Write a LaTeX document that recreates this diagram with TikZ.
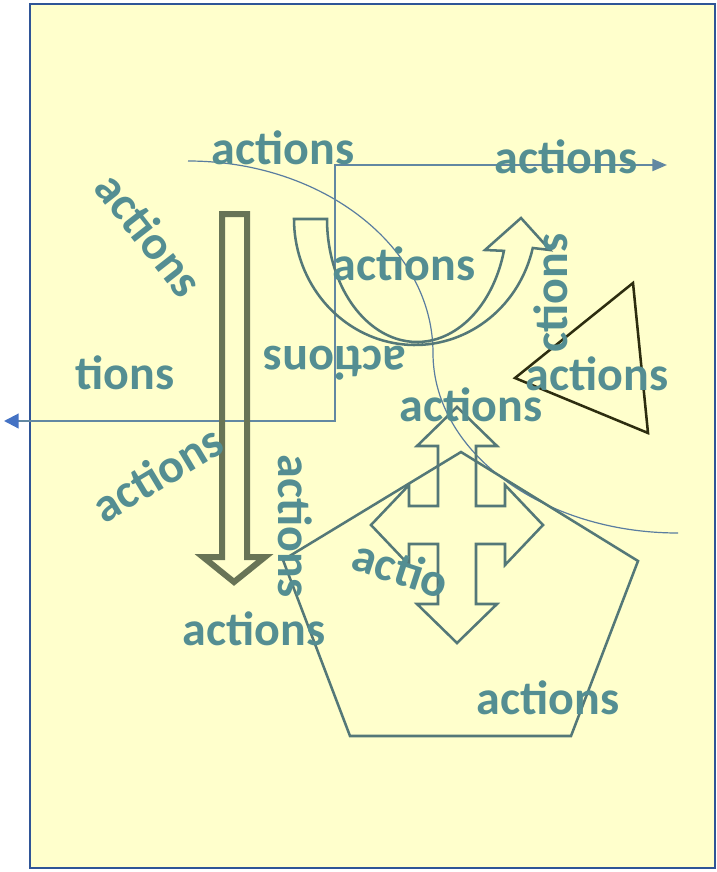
\documentclass[tikz,border=0pt]{standalone}
\usepackage{fontspec}
\setmainfont{Carlito}
\usetikzlibrary{arrows.meta}
\definecolor{bgyellow}{RGB}{255,255,204}
\definecolor{borderblue}{RGB}{47,85,151}
\definecolor{txtteal}{RGB}{84,142,146}
\definecolor{shpgray}{RGB}{84,120,120}
\definecolor{olivearrow}{RGB}{104,116,86}
\definecolor{darktri}{RGB}{45,45,15}
\definecolor{connline}{RGB}{98,136,162}
\definecolor{tipblue}{RGB}{68,114,196}
\definecolor{curveblue}{RGB}{90,125,160}
\tikzset{
  txt/.style={text=txtteal, font=\fontsize{36}{40}\selectfont\bfseries, inner sep=0pt},
  shp/.style={draw=shpgray, line width=1.9pt, line join=miter},
}
\begin{document}
\begin{tikzpicture}[x=0.75pt,y=-0.75pt]
\useasboundingbox (0,0) rectangle (717,872);
% background
\draw[fill=bgyellow, draw=borderblue, line width=1.5pt] (30,4) rectangle (715,868);
% thin S-curve
\coordinate (cA) at (188,161);
\coordinate (cM) at (433,353);
\coordinate (cB) at (678,533);
\draw[curveblue, line width=0.9pt] (cA) .. controls (323,161) and (433,247) .. (cM)
  .. controls (433,452) and (543,533) .. (cB);
% elbow connector
\coordinate (elA) at (4,421);
\coordinate (elK) at (335,165);
\coordinate (elB) at (667,165);
\draw[connline, line width=1.6pt,
  {Triangle[length=11pt,width=11pt,color=tipblue]}-{Triangle[length=11pt,width=9pt]}]
  (elA) -| (elK) -- (elB);
% big down arrow
\draw[olivearrow, line width=4.5pt, line join=miter]
  (222,214) -- (247,214) -- (247,557) -- (265,557) -- (234,582) -- (203,557) -- (222,557) -- cycle;
% U-turn arrow
\draw[shp] (327,219) -- (294,219)
  -- plot[domain=180:13.3, samples=70, variable=\t] ({415+121*cos(\t)},{219+126*sin(\t)})
  -- (550,250) -- (521,218) -- (485,250)
  -- plot[domain=15:180, samples=70, variable=\t] ({417+90*cos(\t)},{219+123*sin(\t)})
  -- cycle;
% triangle
\draw[darktri, line width=1.9pt, line join=miter] (633,283) -- (515,378) -- (648,433) -- cycle;
% four-way arrow
\draw[shp] (409,506) -- (409,485) -- (371,525) -- (409,565) -- (409,544) -- (438,544)
  -- (438,604) -- (417,604) -- (457,643) -- (497,604) -- (476,604) -- (476,544)
  -- (505,544) -- (505,565) -- (543,525) -- (505,485) -- (505,506) -- (476,506)
  -- (476,446) -- (497,446) -- (457,407) -- (417,446) -- (438,446) -- (438,506) -- cycle;
% pentagon
\draw[shp] (461,452) -- (638,561) -- (571,736) -- (350,736) -- (283,560) -- cycle;
% texts
\node[txt] (t1) at (283,148) {actions};
\node[txt] (t2) at (566,157) {actions};
\node[txt, rotate=-52] (t3) at (150,234) {actions};
\node[txt] (t4) at (404,264) {actions};
\node[txt, rotate=90] (t5) at (551,293) {ctions};
\node[txt] (t6) at (125,373) {tions};
\node[txt, rotate=180] (t7) at (335,363) {actions};
\node[txt] (t8) at (597,374) {actions};
\node[txt] (t9) at (471,405) {actions};
\node[txt, rotate=31] (t10) at (157,473) {actions};
\node[txt, rotate=-90] (t11) at (295,526) {actions};
\node[txt, rotate=-18] (t12) at (401,568) {actio};
\node[txt] (t13) at (254,629) {actions};
\node[txt] (t14) at (548,698) {actions};
\end{tikzpicture}
\end{document}
